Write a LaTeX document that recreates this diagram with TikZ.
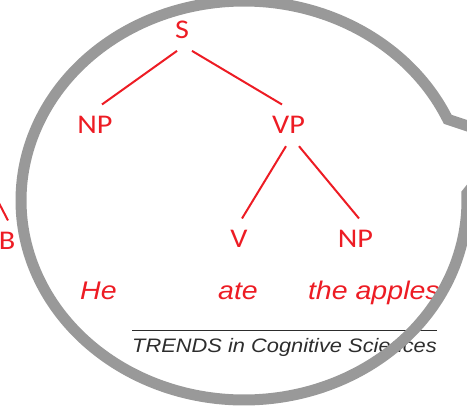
\documentclass[tikz,border=0pt]{standalone}
\usepackage{graphicx}
\usepackage{fontspec}
\newfontfamily\labelfont{Carlito}
\newfontfamily\wordfont{Liberation Sans}
\definecolor{treered}{RGB}{237,28,36}
\definecolor{ringgray}{RGB}{153,153,153}
\definecolor{creditgray}{RGB}{45,45,45}
% all lettering is set slightly wide
\newcommand{\widetext}[1]{\scalebox{1.12}[1]{#1}}

\begin{document}
\begin{tikzpicture}[x=1pt,y=-1pt,
  cat/.style={text=treered, font=\labelfont\fontsize{27}{27}\selectfont,
              inner sep=12pt, anchor=base},
  word/.style={text=treered, font=\wordfont\itshape\fontsize{25.5}{25.5}\selectfont,
               inner sep=0pt},
  credit/.style={text=creditgray, font=\wordfont\itshape\fontsize{19.5}{19.5}\selectfont,
                 inner sep=0pt},
  branch/.style={draw=treered, line width=2pt},
  ring/.style={draw=ringgray, line width=11pt, line join=miter}]
\useasboundingbox (0,0) rectangle (467,409);
\clip (0,0) rectangle (467,409);

% phrase-structure tree
\node[cat] (S)   at (182,38.5) {\widetext{S}};
\node[cat] (NPa) at (95,134)   {\widetext{NP}};
\node[cat] (VP)  at (288.5,134) {\widetext{VP}};
\node[cat] (V)   at (239,248)  {\widetext{V}};
\node[cat] (NPb) at (355.5,248) {\widetext{NP}};
\node[cat] (B)   at (7,250)    {\widetext{B}};
\coordinate (bfeed) at (-13,180);

\draw[branch] ([xshift=-5pt]S.south)   -- ([xshift=7pt]NPa.north);
\draw[branch] ([xshift=10pt]S.south)   -- ([xshift=-6.5pt]VP.north);
\draw[branch] ([xshift=-2.5pt]VP.south) -- ([xshift=3pt]V.north);
\draw[branch] ([xshift=10.5pt]VP.south) -- ([xshift=3.5pt]NPb.north);
\draw[branch] (bfeed) -- ([xshift=1pt]B.north);

% the sentence
\node[word, anchor=base west] (he)     at (80,300)  {\widetext{He}};
\node[word, anchor=base]      (ate)    at (238,300) {\widetext{ate}};
\node[word, anchor=base east] (apples) at (440,300) {\widetext{the apples}};

% journal credit
\node[credit, anchor=base west] (journal) at (132,353)
  {\widetext{TRENDS in Cognitive Sciences}};
\draw[creditgray, line width=1pt]
  ([yshift=8.5pt]journal.north west) -- ([yshift=8.5pt]journal.north east);

% magnifier outline with its tail
\draw[ring] plot[domain=24:362, samples=240, variable=\t]
  ({244+223*cos(\t)}, {200.5-199.5*sin(\t)}) -- (510,140) -- cycle;
\end{tikzpicture}
\end{document}
